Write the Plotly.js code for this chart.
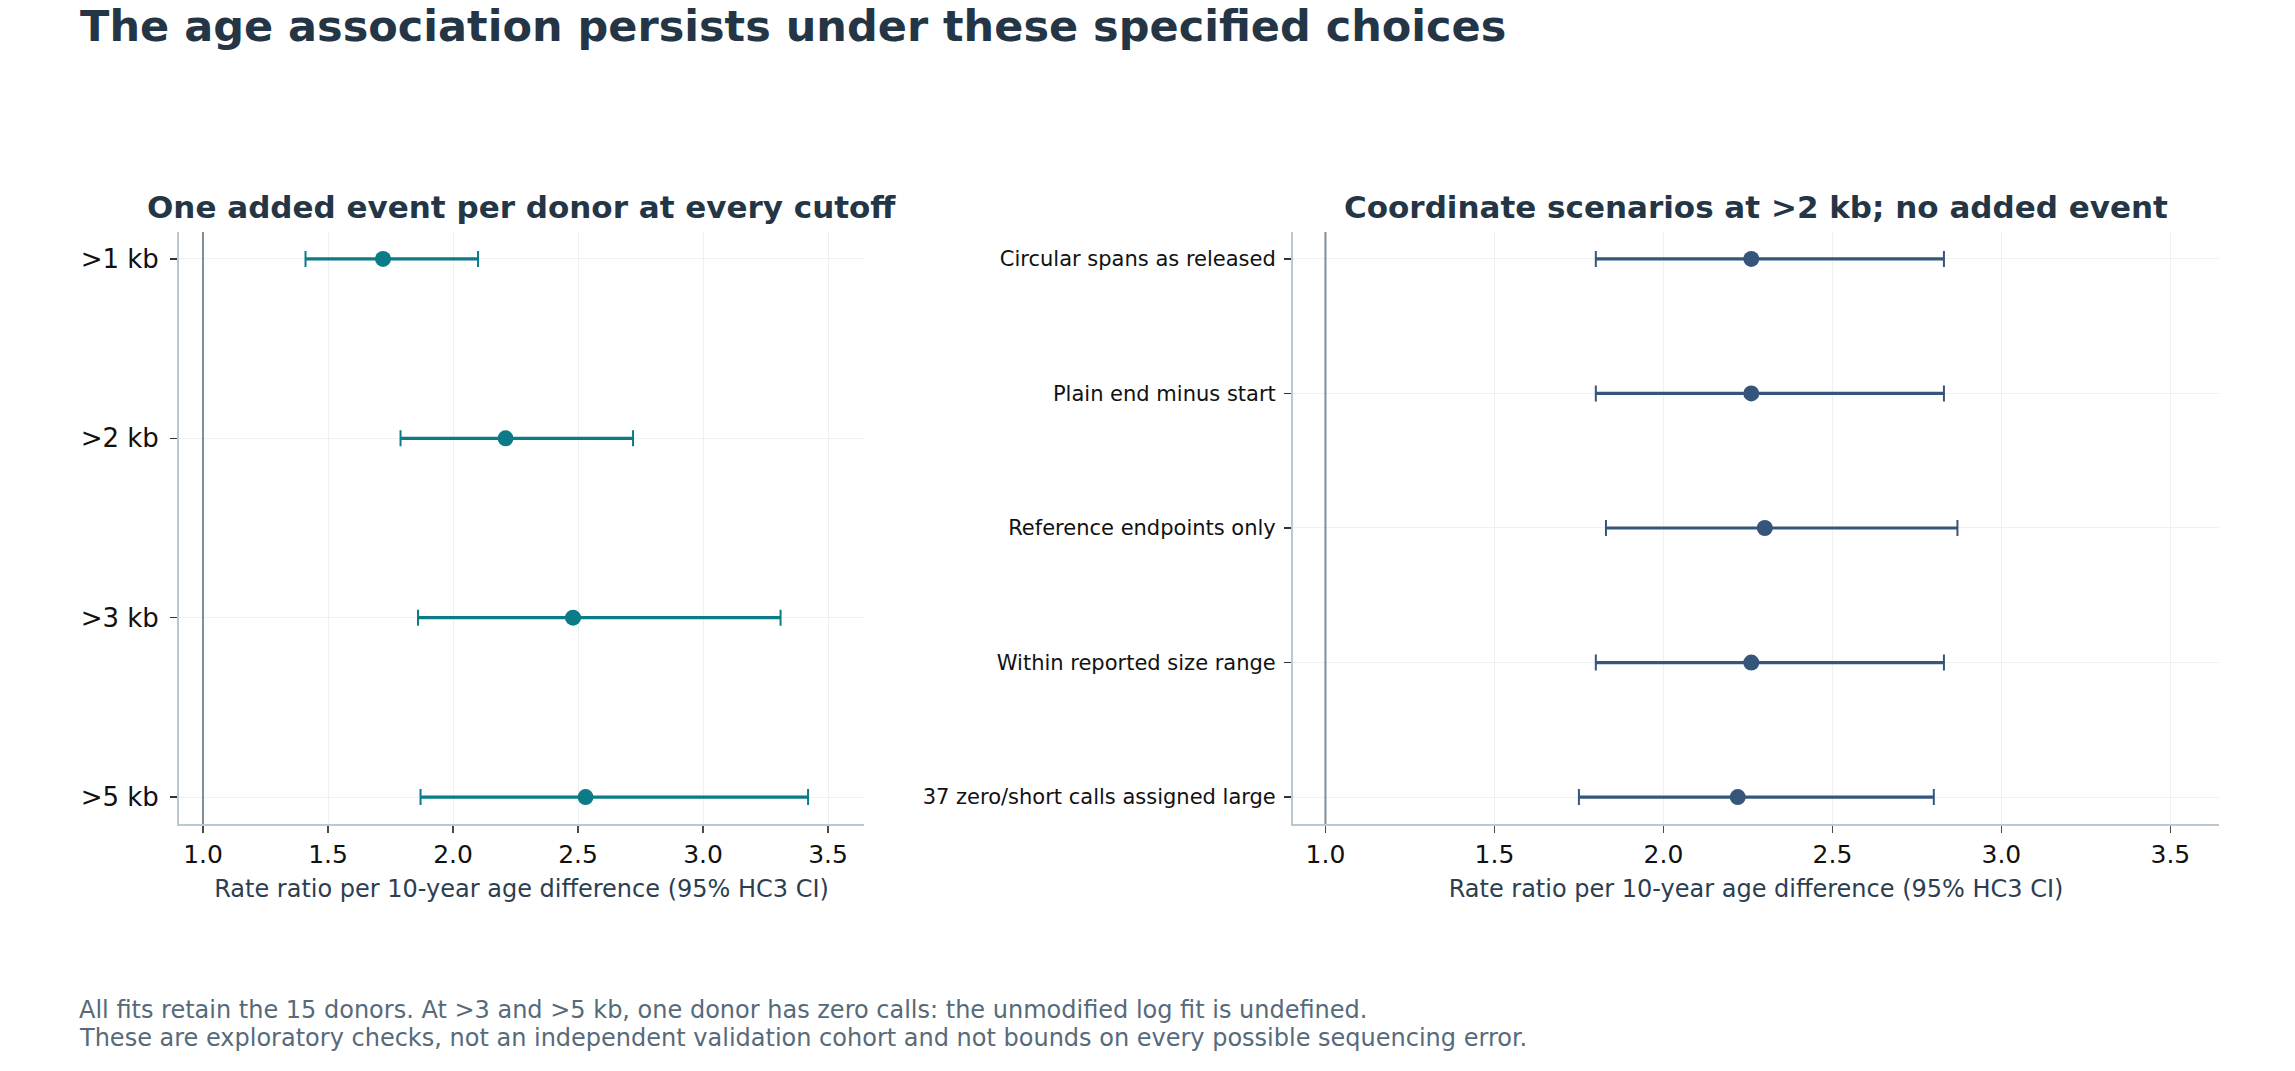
<!DOCTYPE html>
<html>
<head>
<meta charset="utf-8">
<script src="https://cdn.plot.ly/plotly-3.0.1.min.js"></script>
<style>html,body{margin:0;padding:0;background:#fff;}#chart{width:2295px;height:1071px;}</style>
</head>
<body>
<div id="chart"></div>
<script>
// ---- Data ----
const cutoffs = ['>1 kb', '>2 kb', '>3 kb', '>5 kb'];
const cutoffRR = [1.72, 2.21, 2.48, 2.53];
const cutoffLo = [1.41, 1.79, 1.86, 1.87];
const cutoffHi = [2.10, 2.72, 3.31, 3.42];

const scenarios = ['Circular spans as released', 'Plain end minus start', 'Reference endpoints only',
                   'Within reported size range', '37 zero/short calls assigned large'];
const scenRR = [2.26, 2.26, 2.30, 2.26, 2.22];
const scenLo = [1.80, 1.80, 1.83, 1.80, 1.75];
const scenHi = [2.83, 2.83, 2.87, 2.83, 2.80];

const xTicks = [1.0, 1.5, 2.0, 2.5, 3.0, 3.5];

// ---- Styling ----
const FONT = 'DejaVu Sans';
const TEAL = '#0b7c87';
const NAVY = '#35567a';
const DARK = '#243646';

function ciLine(cats, lo, hi) {
  const x = [], y = [];
  cats.forEach((c, i) => { x.push(lo[i], hi[i], null); y.push(c, c, null); });
  return {x, y};
}

function forestTraces(cats, rr, lo, hi, color, xa, ya) {
  const l = ciLine(cats, lo, hi);
  return [
    {type: 'scatter', mode: 'lines', x: l.x, y: l.y, xaxis: xa, yaxis: ya,
     line: {color: color, width: 3.2}, hoverinfo: 'skip', showlegend: false, connectgaps: false},
    {type: 'scatter', mode: 'markers', x: rr, y: cats, xaxis: xa, yaxis: ya,
     marker: {color: color, size: 16},
     error_x: {type: 'data', symmetric: false,
               array: hi.map((h, i) => h - rr[i]),
               arrayminus: lo.map((v, i) => rr[i] - v),
               color: color, thickness: 2, width: 8},
     showlegend: false}
  ];
}

const traces = [
  ...forestTraces(cutoffs, cutoffRR, cutoffLo, cutoffHi, TEAL, 'x', 'y'),
  ...forestTraces(scenarios, scenRR, scenLo, scenHi, NAVY, 'x2', 'y2')
];

const xCommon = {
  range: [0.904, 3.644], tickvals: xTicks, tickformat: '.1f',
  showgrid: true, gridcolor: '#edf1f3', gridwidth: 1, zeroline: false,
  showline: true, linecolor: '#bcc8d0', linewidth: 2,
  ticks: 'outside', ticklen: 7, tickwidth: 1.5, tickcolor: '#4a4a4a',
  tickfont: {family: FONT, size: 25, color: '#111'},
  title: {text: 'Rate ratio per 10-year age difference (95% HC3 CI)',
          font: {family: FONT, size: 24, color: '#2c3e50'}, standoff: 12},
  automargin: false, fixedrange: true
};
const yCommon = {
  type: 'category', showgrid: true, gridcolor: '#edf1f3', gridwidth: 1, zeroline: false,
  showline: true, linecolor: '#bcc8d0', linewidth: 2,
  ticks: 'outside', ticklen: 7, tickwidth: 1.5, tickcolor: '#333',
  automargin: false, fixedrange: true
};

const layout = {
  width: 2295, height: 1071,
  margin: {l: 0, r: 0, t: 0, b: 0},
  paper_bgcolor: '#ffffff', plot_bgcolor: '#ffffff',
  font: {family: FONT, color: DARK},
  showlegend: false,
  title: {text: '<b>The age association persists under these specified choices</b>',
          x: 0.0349, xanchor: 'left', xref: 'paper', y: 1 - 26 / 1071, yanchor: 'middle',
          font: {family: FONT, size: 43, color: DARK}},
  xaxis: Object.assign({}, xCommon, {domain: [0.078, 0.3765], anchor: 'y'}),
  yaxis: Object.assign({}, yCommon, {domain: [0.2306, 0.7834], anchor: 'x',
          categoryorder: 'array', categoryarray: cutoffs, range: [3.15, -0.15],
          ticklabelstandoff: 6,
          tickfont: {family: FONT, size: 26, color: '#111'}}),
  xaxis2: Object.assign({}, xCommon, {domain: [0.5634, 0.9669], anchor: 'y2'}),
  yaxis2: Object.assign({}, yCommon, {domain: [0.2306, 0.7834], anchor: 'x2',
          categoryorder: 'array', categoryarray: scenarios, range: [4.2, -0.2],
          ticklabelstandoff: 4,
          tickfont: {family: FONT, size: 21, color: '#111'}}),
  shapes: [
    {type: 'line', xref: 'x', yref: 'y domain', x0: 1, x1: 1, y0: 0, y1: 1,
     line: {color: '#7f8e99', width: 2}, layer: 'above'},
    {type: 'line', xref: 'x2', yref: 'y2 domain', x0: 1, x1: 1, y0: 0, y1: 1,
     line: {color: '#7f8e99', width: 2}, layer: 'above'}
  ],
  annotations: [
    {text: '<b>One added event per donor at every cutoff</b>', xref: 'paper', yref: 'paper',
     x: (0.078 + 0.3765) / 2, xanchor: 'center', y: 1 - 207 / 1071, yanchor: 'middle',
     showarrow: false, font: {family: FONT, size: 31, color: DARK}},
    {text: '<b>Coordinate scenarios at >2 kb; no added event</b>', xref: 'paper', yref: 'paper',
     x: (0.5634 + 0.9669) / 2, xanchor: 'center', y: 1 - 207 / 1071, yanchor: 'middle',
     showarrow: false, font: {family: FONT, size: 31, color: DARK}},
    {text: 'All fits retain the 15 donors. At >3 and >5 kb, one donor has zero calls: the unmodified log fit is undefined.',
     xref: 'paper', yref: 'paper', x: 77 / 2295, xanchor: 'left', y: 1 - 1010 / 1071, yanchor: 'middle',
     showarrow: false, font: {family: FONT, size: 24, color: '#566a7a'}},
    {text: 'These are exploratory checks, not an independent validation cohort and not bounds on every possible sequencing error.',
     xref: 'paper', yref: 'paper', x: 77 / 2295, xanchor: 'left', y: 1 - 1038 / 1071, yanchor: 'middle',
     showarrow: false, font: {family: FONT, size: 24, color: '#566a7a'}}
  ]
};

Plotly.newPlot('chart', traces, layout, {displayModeBar: false, staticPlot: true});
</script>
</body>
</html>
